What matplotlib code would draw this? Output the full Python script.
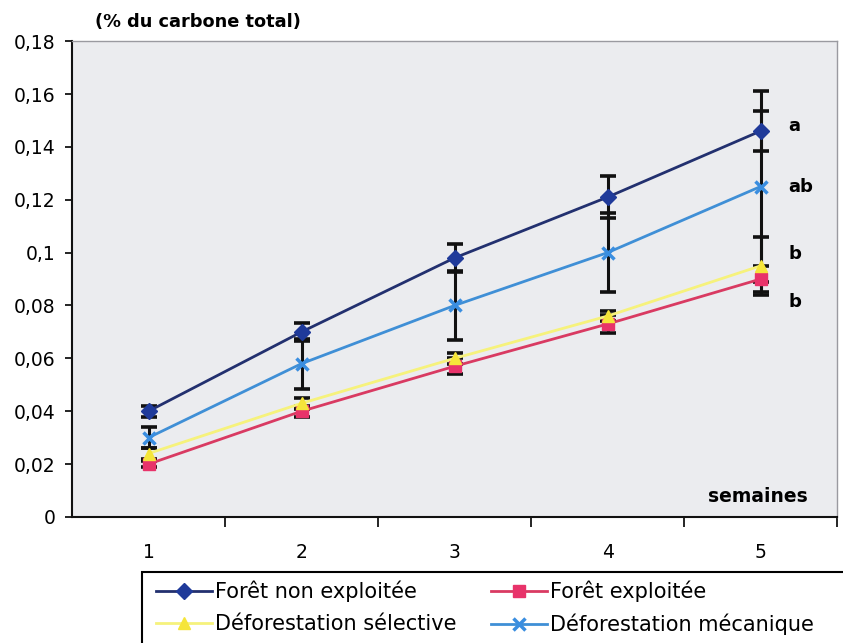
import matplotlib.pyplot as plt
from matplotlib.patches import Rectangle
from matplotlib.ticker import FuncFormatter

plt.rcParams['font.family'] = ['DejaVu Sans']

semaines = [1, 2, 3, 4, 5]

foret_non_exploitee = [0.040, 0.070, 0.098, 0.121, 0.146]
foret_exploitee = [0.020, 0.040, 0.057, 0.073, 0.090]
deforestation_selective = [0.024, 0.043, 0.060, 0.076, 0.095]
deforestation_mecanique = [0.030, 0.058, 0.080, 0.100, 0.125]

err_non_exploitee = [0.002, 0.0035, 0.0053, 0.008, 0.0075]
err_exploitee = [0.001, 0.002, 0.003, 0.0035, 0.005]
err_selective = [0.002, 0.002, 0.002, 0.002, 0.011]
err_mecanique = [0.004, 0.0095, 0.013, 0.015, 0.036]

groupes = ['a', 'ab', 'b', 'b']
groupes_y = [0.148, 0.125, 0.0995, 0.0813]

series = [
    ("Forêt non exploitée", foret_non_exploitee, err_non_exploitee,
     '#22306f', 'D', '#1f3a9a', 8),
    ("Forêt exploitée", foret_exploitee, err_exploitee,
     '#d93a62', 's', '#e8336a', 8),
    ("Déforestation sélective", deforestation_selective, err_selective,
     '#f6f27c', '^', '#f5e53a', 9),
    ("Déforestation mécanique", deforestation_mecanique, err_mecanique,
     '#3f8fd6', 'x', '#3a8ee0', 9),
]

fig = plt.figure(figsize=(8.43, 6.43), dpi=100)
ax = fig.add_axes([0.0854, 0.196, 0.9076, 0.740])
ax.set_facecolor('#ebecef')

handles = []
for name, vals, err, col, mk, mcol, ms in series:
    ax.errorbar(semaines, vals, yerr=err, fmt='none', ecolor='#111111',
                elinewidth=2.2, capsize=6, capthick=2.6, zorder=2)
    h, = ax.plot(semaines, vals, color=col, lw=2, marker=mk, ms=ms,
                 markerfacecolor=mcol, markeredgecolor=mcol,
                 mew=2.5 if mk == 'x' else 1, zorder=3, label=name)
    handles.append(h)

for g, gy in zip(groupes, groupes_y):
    ax.text(5.18, gy, g, fontsize=13, fontweight='bold', va='center', ha='left')

ax.set_xlim(0.5, 5.5)
ax.set_ylim(0, 0.18)
ax.set_yticks([0.02 * i for i in range(10)])
ax.yaxis.set_major_formatter(FuncFormatter(
    lambda v, p: ('%g' % round(v, 2)).replace('.', ',')))
ax.tick_params(axis='y', direction='out', length=5, width=1.2, pad=7, labelsize=13.5)

ax.set_xticks(semaines)
ax.set_xticks([1.5, 2.5, 3.5, 4.5, 5.5], minor=True)
ax.tick_params(axis='x', which='major', length=0, pad=19, labelsize=13.5)
ax.tick_params(axis='x', which='minor', direction='out', length=7, width=1.2)

for side in ['top', 'right']:
    ax.spines[side].set_color('#9a9aa0')
    ax.spines[side].set_linewidth(1)
for side in ['left', 'bottom']:
    ax.spines[side].set_color('#111111')
    ax.spines[side].set_linewidth(1.5)

fig.text(95 / 843, 1 - 22 / 643, "(% du carbone total)", fontsize=12.8,
         fontweight='bold', ha='left', va='center')
fig.text(808 / 843, 1 - 497 / 643, "semaines", fontsize=13.5,
         fontweight='bold', ha='right', va='center')

# legend frame runs off the bottom-right corner of the figure
fig.patches.append(Rectangle((142 / 843, -0.05), 0.9, 1 - 572 / 643 + 0.05,
                             transform=fig.transFigure, fill=False,
                             edgecolor='black', lw=1.5))
leg_kw = dict(frameon=False, loc='upper left', fontsize=15, handlelength=2.7,
              handletextpad=0.15, labelspacing=0.55, borderaxespad=0,
              borderpad=0)
col1 = [handles[0], handles[2]]
col2 = [handles[1], handles[3]]
fig.legend(col1, [h.get_label() for h in col1],
           bbox_to_anchor=(156 / 843, 1 - 581 / 643), **leg_kw)
fig.legend(col2, [h.get_label() for h in col2],
           bbox_to_anchor=(491 / 843, 1 - 581 / 643), **leg_kw)

fig.savefig('out.png', dpi=100)
